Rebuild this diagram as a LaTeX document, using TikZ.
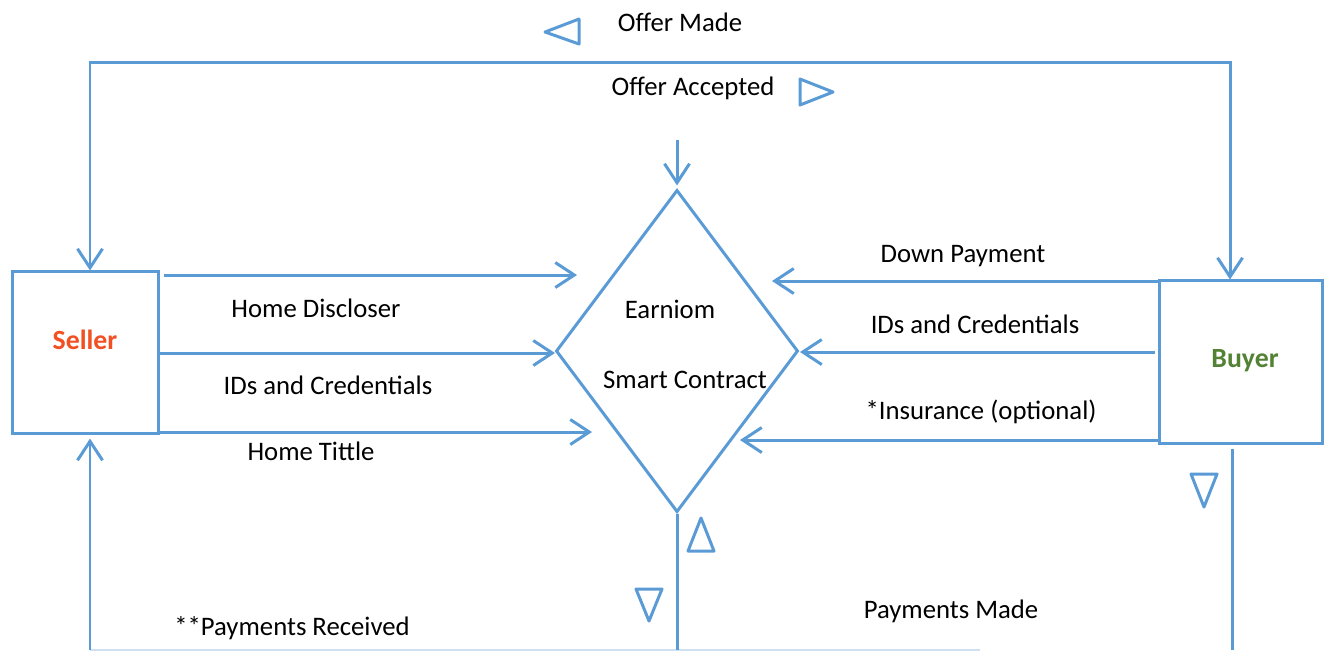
\documentclass[tikz,border=0pt]{standalone}
\usepackage{fontspec}
\setmainfont{Carlito}
\usetikzlibrary{arrows.meta,shapes.geometric}
\definecolor{lineblue}{HTML}{5B9BD5}
\definecolor{sellerred}{HTML}{F25022}
\definecolor{buyergreen}{HTML}{548235}
\tikzset{
  ln/.style={draw=lineblue, line width=0.85pt},
  arr/.style={ln, -{Straight Barb[length=1.9mm,width=2.5mm,line width=0.85pt]}},
  tri/.style={draw=lineblue, line width=0.85pt, line join=round},
  lbl/.style={font=\fontsize{7.6}{9.5}\selectfont, text=black, inner sep=0pt},
  party/.style={draw=lineblue, line width=0.85pt, rectangle, inner sep=0pt},
}
\begin{document}
\begin{tikzpicture}[x=0.01cm, y=-0.01cm]
\useasboundingbox (0,0) rectangle (1325,650);
% parties
\node[party, minimum width=1.45cm, minimum height=1.61cm] (seller) at (85.5,352.5) {};
\node[party, minimum width=1.62cm, minimum height=1.62cm] (buyer) at (1241,362) {};
\node[font=\fontsize{7.9}{9.5}\selectfont\bfseries, text=sellerred, inner sep=0pt] (sellerlbl) at (85,340) {Seller};
\node[font=\fontsize{7.9}{9.5}\selectfont\bfseries, text=buyergreen, inner sep=0pt] (buyerlbl) at (1245,361) {Buyer};
% contract
\node[diamond, ln, minimum width=2.42cm, minimum height=3.22cm, inner sep=0pt] (sc) at (677,351) {};
\node[lbl] (sc1) at (670,309) {Earniom};
\node[lbl] (sc2) at (685,380) {Smart Contract};
% top loop
\coordinate (tl) at (90,62);
\coordinate (tr) at (1230,62);
\draw[arr] (tr) -- (tl) -- (tl |- seller.north);
\draw[arr] (tl) -- (tr) -- (tr |- buyer.north);
\coordinate (offin) at (677,140);
\draw[arr] (offin) -- ([yshift=0.3mm]sc.north);
\node[lbl] (offmade) at (680,22) {Offer Made};
\node[lbl] (offacc) at (693,88) {Offer Accepted};
\draw[tri] (545,32) -- (579,19) -- (579,44) -- cycle;
\draw[tri] (833,92) -- (800,79) -- (800,105) -- cycle;
% seller arrows
\coordinate (s1) at (577,275);
\coordinate (s2) at (555,353);
\coordinate (s3) at (592,432);
\draw[arr] ([xshift=0.4mm]seller.east |- s1) -- (s1);
\draw[arr] (seller.east |- s2) -- (s2);
\draw[arr] (seller.east |- s3) -- (s3);
\node[lbl] (hd) at (316,308) {Home Discloser};
\node[lbl] (sid) at (328,385) {IDs and Credentials};
\node[lbl] (ht) at (311,451) {Home Tittle};
% buyer arrows
\coordinate (b1) at (772,281);
\coordinate (b2) at (800,352);
\coordinate (b3) at (740,440);
\draw[arr] (buyer.west |- b1) -- (b1);
\draw[arr] ([xshift=-0.3mm]buyer.west |- b2) -- (b2);
\draw[arr] (buyer.west |- b3) -- (b3);
\node[lbl] (dp) at (963,256) {Down Payment};
\node[lbl] (bid) at (975,324) {IDs and Credentials};
\node[lbl] (ins) at (981,412) {*Insurance (optional)};
% bottom
\coordinate (bl) at (90,650);
\coordinate (bm) at (677,650);
\coordinate (bx) at (980,650);
\coordinate (br) at (1232,650);
\draw[ln] (sc.south) -- (bm);
\draw[arr] (bl) -- ([yshift=-0.4mm]bl |- seller.south);
\draw[ln] ([yshift=-0.4mm]br |- buyer.south) -- (br);
\draw[ln, draw opacity=0.3] (bl) -- (bx);
\draw[tri] (701,518) -- (688,551) -- (714,551) -- cycle;
\draw[tri] (649,621) -- (636,589) -- (662,589) -- cycle;
\draw[tri] (1204,507) -- (1191,474) -- (1217,474) -- cycle;
\node[lbl] (pr) at (292,628) {*{}*Payments Received};
\node[lbl] (pm) at (951,611) {Payments Made};
\end{tikzpicture}
\end{document}
